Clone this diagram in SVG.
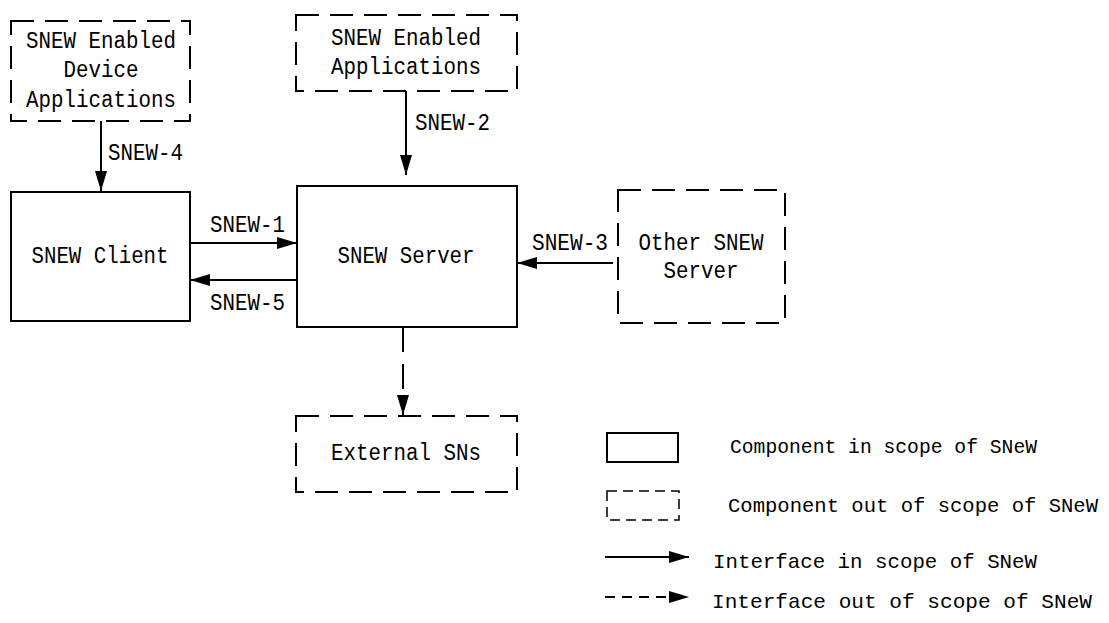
<svg xmlns="http://www.w3.org/2000/svg" width="1109" height="623" viewBox="0 0 1109 623">
<style>
text{font-family:"Liberation Mono","DejaVu Sans Mono",monospace;font-size:23px;fill:#000}
.c{text-anchor:middle}
.lg{font-size:21px}
.box{fill:#fff;stroke:#000;stroke-width:2}
.dbox{fill:none;stroke:#000;stroke-width:2;stroke-dasharray:23 11}
.ln{stroke:#000;stroke-width:2;fill:none}
.dln{stroke:#000;stroke-width:2;fill:none;stroke-dasharray:25 12}
</style>
<defs>
<marker id="ah" markerUnits="userSpaceOnUse" markerWidth="20" markerHeight="12" refX="20" refY="6" orient="auto">
<path d="M0,0 L20,6 L0,12 z" fill="#000"/>
</marker>
</defs>
<g id="device-apps">
<rect class="dbox" x="11" y="21" width="179" height="100"/>
<text class="c" x="101" y="48" textLength="150" lengthAdjust="spacingAndGlyphs">SNEW Enabled</text>
<text class="c" x="101" y="77" textLength="75" lengthAdjust="spacingAndGlyphs">Device</text>
<text class="c" x="101" y="107" textLength="150" lengthAdjust="spacingAndGlyphs">Applications</text>
</g>
<g id="enabled-apps">
<rect class="dbox" x="296" y="15" width="221" height="76"/>
<text class="c" x="406" y="45" textLength="150" lengthAdjust="spacingAndGlyphs">SNEW Enabled</text>
<text class="c" x="406" y="74" textLength="150" lengthAdjust="spacingAndGlyphs">Applications</text>
</g>
<g id="client">
<rect class="box" x="11" y="192" width="179" height="129"/>
<text class="c" x="100" y="263" textLength="137" lengthAdjust="spacingAndGlyphs">SNEW Client</text>
</g>
<g id="server">
<rect class="box" x="297" y="186" width="220" height="141"/>
<text class="c" x="406" y="263" textLength="137" lengthAdjust="spacingAndGlyphs">SNEW Server</text>
</g>
<g id="other-server">
<rect class="dbox" x="618" y="190" width="167" height="133"/>
<text class="c" x="701" y="250" textLength="125" lengthAdjust="spacingAndGlyphs">Other SNEW</text>
<text class="c" x="701" y="278" textLength="75" lengthAdjust="spacingAndGlyphs">Server</text>
</g>
<g id="external">
<rect class="dbox" x="296" y="416" width="221" height="76"/>
<text class="c" x="406" y="460" textLength="150" lengthAdjust="spacingAndGlyphs">External SNs</text>
</g>
<g id="connectors">
<line class="ln" x1="101" y1="121" x2="101" y2="191" marker-end="url(#ah)"/>
<text x="108" y="160" textLength="75" lengthAdjust="spacingAndGlyphs">SNEW-4</text>
<line class="ln" x1="406" y1="91" x2="406" y2="175" marker-end="url(#ah)"/>
<text x="415" y="130" textLength="75" lengthAdjust="spacingAndGlyphs">SNEW-2</text>
<line class="ln" x1="190" y1="243" x2="297" y2="243" marker-end="url(#ah)"/>
<text x="210" y="232" textLength="75" lengthAdjust="spacingAndGlyphs">SNEW-1</text>
<line class="ln" x1="297" y1="280" x2="190" y2="280" marker-end="url(#ah)"/>
<text x="210" y="310" textLength="75" lengthAdjust="spacingAndGlyphs">SNEW-5</text>
<line class="ln" x1="613" y1="263" x2="517" y2="263" marker-end="url(#ah)"/>
<text x="532" y="250" textLength="76" lengthAdjust="spacingAndGlyphs">SNEW-3</text>
<line class="dln" x1="403" y1="327" x2="403" y2="415" marker-end="url(#ah)"/>
</g>
<g id="legend">
<rect class="box" x="607" y="433" width="71" height="29"/>
<text class="lg" x="730" y="453" textLength="307" lengthAdjust="spacingAndGlyphs">Component in scope of SNeW</text>
<rect x="607" y="491" width="72" height="29" fill="none" stroke="#000" stroke-width="1.5" stroke-dasharray="10 6"/>
<text class="lg" x="728" y="512" textLength="370" lengthAdjust="spacingAndGlyphs">Component out of scope of SNeW</text>
<line class="ln" x1="605" y1="557" x2="689" y2="557" marker-end="url(#ah)"/>
<text class="lg" x="713" y="568" textLength="324" lengthAdjust="spacingAndGlyphs">Interface in scope of SNeW</text>
<line x1="605" y1="597" x2="689" y2="597" stroke="#000" stroke-width="2" stroke-dasharray="10 7" marker-end="url(#ah)"/>
<text class="lg" x="712" y="608" textLength="380" lengthAdjust="spacingAndGlyphs">Interface out of scope of SNeW</text>
</g>
</svg>
